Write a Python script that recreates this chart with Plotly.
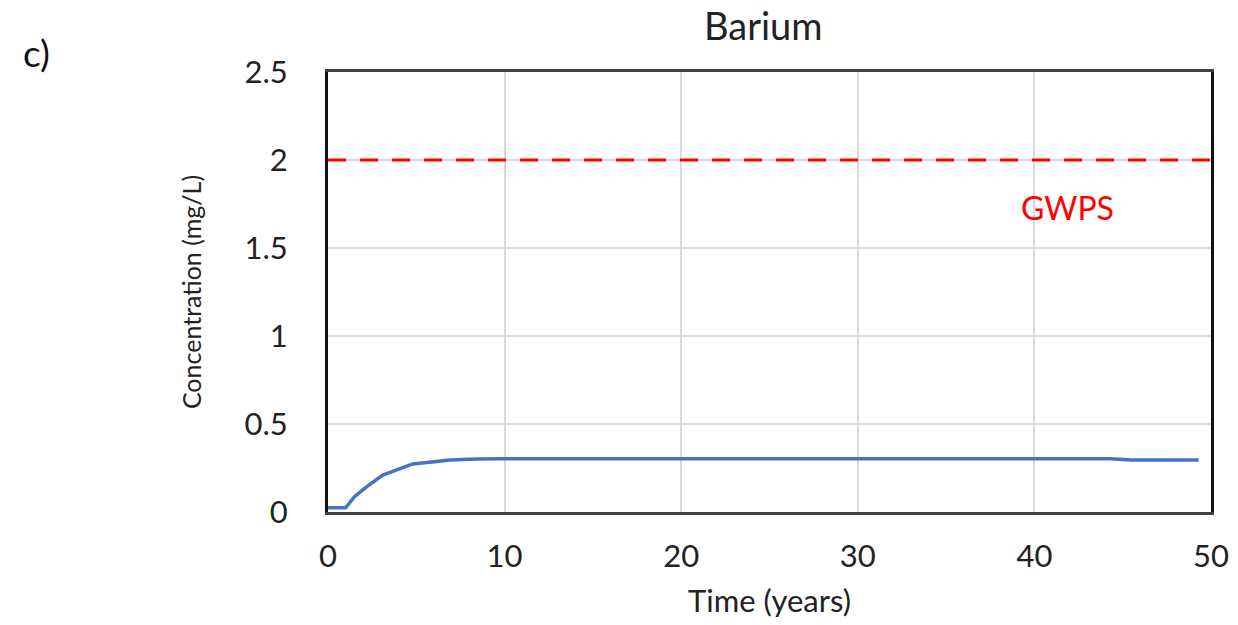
import plotly.graph_objects as go

# Data
time_years = [0, 1.0, 1.5, 2.2, 3.1, 3.9, 4.8, 6.0, 6.9, 8.4, 9.7, 15, 20, 30, 40, 44.3, 45.5, 49.3]
barium_conc = [0.024, 0.024, 0.087, 0.144, 0.21, 0.239, 0.273, 0.286, 0.295, 0.301, 0.303, 0.303, 0.303, 0.303, 0.303, 0.302, 0.296, 0.296]
gwps_value = 2.0
gwps_label = "GWPS"
x_ticks = [0, 10, 20, 30, 40, 50]
y_ticks = [0, 0.5, 1, 1.5, 2, 2.5]
y_tick_text = ["0", "0.5", "1", "1.5", "2", "2.5"]

FONT = "Lato"
W, H = 1238, 625
L, R, T, B = 328, 27, 72, 113
PW, PH = W - L - R, H - T - B


def px(x, y):
    return (x - L) / PW, 1 - (y - T) / PH


fig = go.Figure()
fig.add_trace(go.Scatter(
    x=[0, 50], y=[gwps_value, gwps_value], mode="lines",
    line=dict(color="#FF0000", width=3, dash="18px,14px"),
    hoverinfo="skip", showlegend=False))
fig.add_trace(go.Scatter(
    x=time_years, y=barium_conc, mode="lines",
    line=dict(color="#4472C4", width=3.5),
    showlegend=False))

fig.add_annotation(x=41.85, y=1.73, xref="x", yref="y", text=gwps_label,
                   showarrow=False, font=dict(family=FONT, size=32, color="#FF0000"))
bx, by = px(763, 25)
fig.add_annotation(x=bx, y=by, xref="paper", yref="paper", text="Barium",
                   xanchor="center", yanchor="middle",
                   showarrow=False, font=dict(family=FONT, size=38, color="#222"))
cx, cy = px(36, 52)
fig.add_annotation(x=cx, y=cy, xref="paper", yref="paper", text="c)",
                   xanchor="center", yanchor="middle",
                   showarrow=False, font=dict(family=FONT, size=37, color="#111"))

fig.update_layout(
    width=W, height=H,
    margin=dict(l=L, r=R, t=T, b=B, autoexpand=False),
    paper_bgcolor="white", plot_bgcolor="white",
    font=dict(family=FONT, size=31, color="#222"),
    xaxis=dict(range=[0, 50], tickvals=x_ticks, showgrid=True, automargin=True,
               gridcolor="#D9D9D9", gridwidth=2, zeroline=False,
               showline=True, linecolor="#404040", linewidth=2.5, mirror=True,
               ticks="outside", ticklen=15, tickcolor="rgba(0,0,0,0)",
               title=dict(text="Time (years)", font=dict(size=31), standoff=18)),
    yaxis=dict(range=[0, 2.5], tickvals=y_ticks, ticktext=y_tick_text,
               showgrid=True, gridcolor="#D9D9D9", gridwidth=2, zeroline=False,
               automargin=True,
               showline=True, linecolor="#111", linewidth=3, mirror=True,
               ticks="outside", ticklen=31, tickcolor="rgba(0,0,0,0)",
               title=dict(text="Concentration (mg/L)", font=dict(size=25), standoff=36)),
)

fig.write_html("out.html")
